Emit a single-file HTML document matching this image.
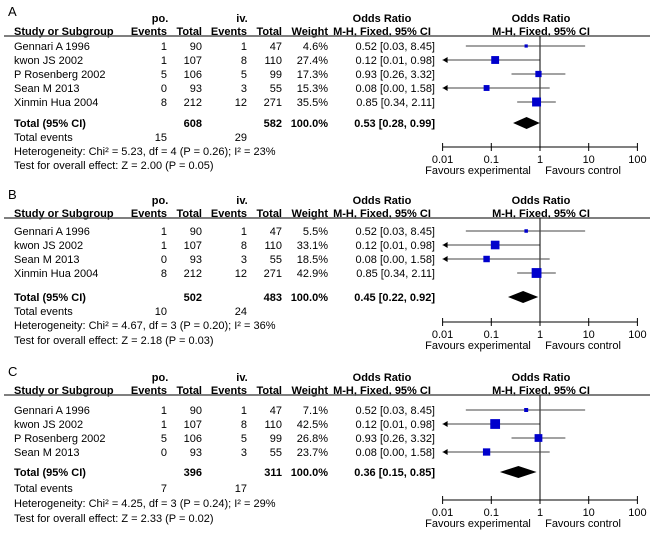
<!DOCTYPE html>
<html><head><meta charset="utf-8"><style>
body{margin:0;background:#fff;}
svg{display:block;font-family:"Liberation Sans",Arial,sans-serif;font-size:11px;}
.b{font-weight:bold;}
</style></head><body>
<svg id="chart" width="650" height="533" viewBox="0 0 650 533"></svg>
<script>
// ---- data ----
const panelLabels = ["A","B","C"];
const studiesA = ["Gennari A 1996","kwon JS 2002","P Rosenberg 2002","Sean M 2013","Xinmin Hua 2004"];
const poEventsA = [1,1,5,0,8]; const poTotalA = [90,107,106,93,212];
const ivEventsA = [1,8,5,3,12]; const ivTotalA = [47,110,99,55,271];
const weightA = [4.6,27.4,17.3,15.3,35.5];
const orA = [0.52,0.12,0.93,0.08,0.85]; const loA = [0.03,0.01,0.26,0.00,0.34]; const hiA = [8.45,0.98,3.32,1.58,2.11];
const totalA = {po:608, iv:582, or:0.53, lo:0.28, hi:0.99, poEv:15, ivEv:29, het:"Heterogeneity: Chi² = 5.23, df = 4 (P = 0.26); I² = 23%", test:"Test for overall effect: Z = 2.00 (P = 0.05)"};

const studiesB = ["Gennari A 1996","kwon JS 2002","Sean M 2013","Xinmin Hua 2004"];
const poEventsB = [1,1,0,8]; const poTotalB = [90,107,93,212];
const ivEventsB = [1,8,3,12]; const ivTotalB = [47,110,55,271];
const weightB = [5.5,33.1,18.5,42.9];
const orB = [0.52,0.12,0.08,0.85]; const loB = [0.03,0.01,0.00,0.34]; const hiB = [8.45,0.98,1.58,2.11];
const totalB = {po:502, iv:483, or:0.45, lo:0.22, hi:0.92, poEv:10, ivEv:24, het:"Heterogeneity: Chi² = 4.67, df = 3 (P = 0.20); I² = 36%", test:"Test for overall effect: Z = 2.18 (P = 0.03)"};

const studiesC = ["Gennari A 1996","kwon JS 2002","P Rosenberg 2002","Sean M 2013"];
const poEventsC = [1,1,5,0]; const poTotalC = [90,107,106,93];
const ivEventsC = [1,8,5,3]; const ivTotalC = [47,110,99,55];
const weightC = [7.1,42.5,26.8,23.7];
const orC = [0.52,0.12,0.93,0.08]; const loC = [0.03,0.01,0.26,0.00]; const hiC = [8.45,0.98,3.32,1.58];
const totalC = {po:396, iv:311, or:0.36, lo:0.15, hi:0.85, poEv:7, ivEv:17, het:"Heterogeneity: Chi² = 4.25, df = 3 (P = 0.24); I² = 29%", test:"Test for overall effect: Z = 2.33 (P = 0.02)"};

const tickValues = [0.01,0.1,1,10,100];
const tickLabels = ["0.01","0.1","1","10","100"];

// ---- layout ----
const NS="http://www.w3.org/2000/svg";
const svg=document.getElementById('chart');
const X0=540, DEC=48.7;
function xs(v){ return X0 + DEC*Math.log10(v); }
const XMIN=xs(0.01), XMAX=xs(100);
function el(tag,attrs,parent){const e=document.createElementNS(NS,tag);for(const k in attrs)e.setAttribute(k,attrs[k]);(parent||svg).appendChild(e);return e;}
function txt(s,x,y,anchor,cls,parent,name){const t=el('text',{x:x,y:y,'text-anchor':anchor||'start',fill:'#000'},parent);if(cls)t.setAttribute('class',cls);t.textContent=s;


return t;}
function fmt(v){return v.toFixed(2);}

const panels=[
 {L:11,h1:18,h2:31,line:36,row0:46,sp:14,total:123,ev:137,het:151,test:165,axis:147,
  studies:studiesA,poE:poEventsA,poT:poTotalA,ivE:ivEventsA,ivT:ivTotalA,w:weightA,or:orA,lo:loA,hi:hiA,tot:totalA},
 {L:194,h1:200,h2:213,line:218,row0:231,sp:14,total:297,ev:311,het:325,test:340,axis:322,
  studies:studiesB,poE:poEventsB,poT:poTotalB,ivE:ivEventsB,ivT:ivTotalB,w:weightB,or:orB,lo:loB,hi:hiB,tot:totalB},
 {L:371,h1:377,h2:390,line:395,row0:410,sp:14,total:472,ev:488,het:503,test:518,axis:500,
  studies:studiesC,poE:poEventsC,poT:poTotalC,ivE:ivEventsC,ivT:ivTotalC,w:weightC,or:orC,lo:loC,hi:hiC,tot:totalC}
];
const BL=4;

panels.forEach((p,pi)=>{
 const g=el('g',{});
 
 
 const pl=txt(panelLabels[pi],8,p.L+5,'start',null,g,'panel-label');
 pl.setAttribute('font-size','13');
 txt('po.',160,p.h1+BL,'middle','b',g,'group-header-po');
 txt('iv.',242,p.h1+BL,'middle','b',g,'group-header-iv');
 txt('Odds Ratio',382,p.h1+BL,'middle','b',g,'or-header');
 txt('Odds Ratio',541,p.h1+BL,'middle','b',g,'plot-header');
 txt('Study or Subgroup',14,p.h2+BL,'start','b',g,'study-column-header');
 txt('Events',167,p.h2+BL,'end','b',g,'po-events-header');
 txt('Total',202,p.h2+BL,'end','b',g,'po-total-header');
 txt('Events',247,p.h2+BL,'end','b',g,'iv-events-header');
 txt('Total',282,p.h2+BL,'end','b',g,'iv-total-header');
 txt('Weight',328,p.h2+BL,'end','b',g,'weight-header');
 txt('M-H, Fixed, 95% CI',382,p.h2+BL,'middle','b',g,'or-method-header');
 txt('M-H, Fixed, 95% CI',541,p.h2+BL,'middle','b',g,'plot-method-header');
 const hl=el('line',{x1:4,x2:650,y1:p.line,y2:p.line,stroke:'#555','stroke-width':1.5},g);
 
 
 const nl=el('line',{x1:X0,x2:X0,y1:p.line,y2:p.axis,stroke:'#000','stroke-width':1},g);
 
 
 p.studies.forEach((s,i)=>{
  const y=p.row0+i*p.sp;
  txt(s,14,y+BL,'start',null,g,'study-name');
  txt(String(p.poE[i]),167,y+BL,'end',null,g,'po-events');
  txt(String(p.poT[i]),202,y+BL,'end',null,g,'po-total');
  txt(String(p.ivE[i]),247,y+BL,'end',null,g,'iv-events');
  txt(String(p.ivT[i]),282,y+BL,'end',null,g,'iv-total');
  txt(p.w[i].toFixed(1)+'%',328,y+BL,'end',null,g,'weight');
  txt(fmt(p.or[i])+' ['+fmt(p.lo[i])+', '+fmt(p.hi[i])+']',435,y+BL,'end',null,g,'or-ci');
  const lo=p.lo[i]>0?Math.max(xs(p.lo[i]),XMIN):XMIN;
  const hi=Math.min(xs(p.hi[i]),XMAX);
  const ci=el('line',{x1:lo,x2:hi,y1:y,y2:y,stroke:'#444','stroke-width':1},g);
  
  
  if(p.lo[i]<=0.01){
   const ar=el('polygon',{points:`${XMIN},${y} ${XMIN+5},${y-3} ${XMIN+5},${y+3}`,fill:'#000'},g);
   
   
  }
  const sz=Math.max(2.5,Math.sqrt(p.w[i])*1.5);
  const cx=xs(p.or[i]);
  const sq=el('rect',{x:cx-sz/2,y:y-sz/2,width:sz,height:sz,fill:'#0000cc'},g);
  
  
 });
 txt('Total (95% CI)',14,p.total+BL,'start','b',g,'total-label');
 txt(String(p.tot.po),202,p.total+BL,'end','b',g,'po-total-sum');
 txt(String(p.tot.iv),282,p.total+BL,'end','b',g,'iv-total-sum');
 txt('100.0%',328,p.total+BL,'end','b',g,'total-weight');
 txt(fmt(p.tot.or)+' ['+fmt(p.tot.lo)+', '+fmt(p.tot.hi)+']',435,p.total+BL,'end','b',g,'total-or-ci');
 const y=p.total;
 const dm=el('polygon',{points:`${xs(p.tot.lo)},${y} ${xs(p.tot.or)},${y-6} ${xs(p.tot.hi)},${y} ${xs(p.tot.or)},${y+6}`,fill:'#000'},g);
 
 
 txt('Total events',14,p.ev+BL,'start',null,g,'total-events-label');
 txt(String(p.tot.poEv),167,p.ev+BL,'end',null,g,'po-total-events');
 txt(String(p.tot.ivEv),247,p.ev+BL,'end',null,g,'iv-total-events');
 txt(p.tot.het,14,p.het+BL,'start',null,g,'heterogeneity');
 txt(p.tot.test,14,p.test+BL,'start',null,g,'overall-effect-test');
 const ax=el('line',{x1:XMIN,x2:XMAX,y1:p.axis,y2:p.axis,stroke:'#000','stroke-width':1},g);
 
 
 tickValues.forEach((v,k)=>{
  const tx=xs(v);
  const tk=el('line',{x1:tx,x2:tx,y1:p.axis-4,y2:p.axis+4,stroke:'#000','stroke-width':1},g);
  
  
  txt(tickLabels[k],tx,p.axis+16,'middle',null,g,'x-tick-label');
 });
 txt('Favours experimental',478,p.axis+27,'middle',null,g,'favours-experimental');
 txt('Favours control',583,p.axis+27,'middle',null,g,'favours-control');
});
</script>
</body></html>
